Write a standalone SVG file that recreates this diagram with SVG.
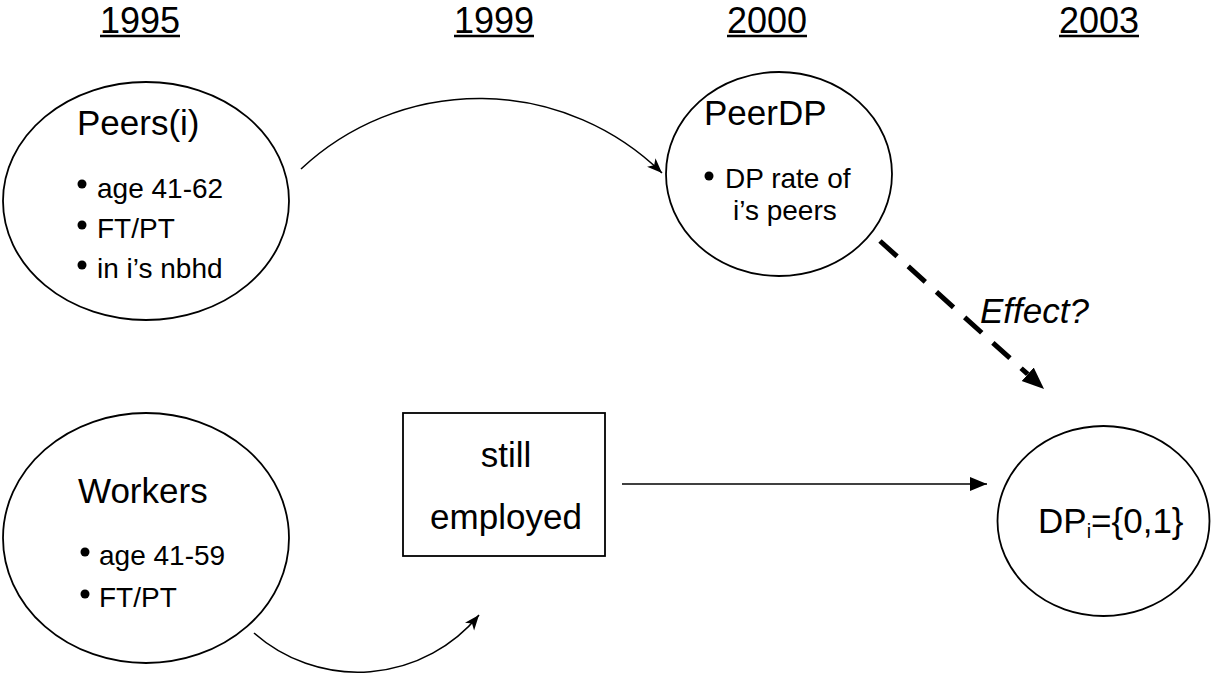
<svg xmlns="http://www.w3.org/2000/svg" width="1211" height="674" viewBox="0 0 1211 674">
  <style>
    text { font-family: "Liberation Sans", Arial, sans-serif; fill: #000; }
    .year { font-size: 36px; }
    .title { font-size: 35px; }
    .bul { font-size: 28px; }
    .node { fill: #fff; stroke: #000; stroke-width: 1.8; }
    .ul { stroke: #000; stroke-width: 2.6; }
    .dot { fill: #000; }
    .conn { fill: none; stroke: #000; stroke-width: 1.6; }
  </style>
  <defs>
    <marker id="stealth" markerUnits="userSpaceOnUse" markerWidth="18" markerHeight="14" refX="15" refY="6" orient="auto">
      <path d="M0,0 L15,6 L0,12 L4,6 z" fill="#000"/>
    </marker>
    <marker id="tri" markerUnits="userSpaceOnUse" markerWidth="20" markerHeight="16" refX="17" refY="7" orient="auto">
      <path d="M0,0 L17,7 L0,14 z" fill="#000"/>
    </marker>
    <marker id="bigtri" markerUnits="userSpaceOnUse" markerWidth="24" markerHeight="20" refX="0" refY="9" orient="auto">
      <path d="M0,0 L22,9 L0,18 z" fill="#000"/>
    </marker>
  </defs>

  <g id="years">
    <text class="year" x="100" y="33">1995</text>
    <line class="ul" x1="100" y1="36" x2="180" y2="36"/>
    <text class="year" x="454" y="33">1999</text>
    <line class="ul" x1="454" y1="36" x2="534" y2="36"/>
    <text class="year" x="727" y="33">2000</text>
    <line class="ul" x1="727" y1="36" x2="807" y2="36"/>
    <text class="year" x="1059" y="33">2003</text>
    <line class="ul" x1="1059" y1="36" x2="1139" y2="36"/>
  </g>

  <g id="connectors">
    <path class="conn" d="M301,169 A261,261 0 0 1 662,173" marker-end="url(#stealth)"/>
    <path class="conn" d="M254,633 A157,157 0 0 0 479,615" marker-end="url(#stealth)"/>
    <line class="conn" x1="622" y1="484" x2="987" y2="484" marker-end="url(#tri)"/>
    <line x1="880" y1="241" x2="1027.7" y2="374.2" stroke="#000" stroke-width="5" stroke-dasharray="23 15" marker-end="url(#bigtri)"/>
    <text class="title" x="980" y="323" font-style="italic">Effect?</text>
  </g>

  <g id="peers">
    <ellipse class="node" cx="146" cy="201" rx="143" ry="119"/>
    <text class="title" x="77" y="135">Peers(i)</text>
    <circle class="dot" cx="82" cy="184" r="4.5"/>
    <text class="bul" x="97" y="198">age 41-62</text>
    <circle class="dot" cx="82" cy="225" r="4.5"/>
    <text class="bul" x="97" y="238">FT/PT</text>
    <circle class="dot" cx="82" cy="265" r="4.5"/>
    <text class="bul" x="97" y="278">in i’s nbhd</text>
  </g>

  <g id="peerdp">
    <ellipse class="node" cx="779" cy="174" rx="113" ry="102"/>
    <text class="title" x="704" y="125">PeerDP</text>
    <circle class="dot" cx="709" cy="176" r="4.5"/>
    <text class="bul" x="725" y="188">DP rate of</text>
    <text class="bul" x="733" y="220">i’s peers</text>
  </g>

  <g id="workers">
    <ellipse class="node" cx="146" cy="538" rx="143" ry="125"/>
    <text class="title" x="78" y="503">Workers</text>
    <circle class="dot" cx="85" cy="552" r="4.5"/>
    <text class="bul" x="99" y="565">age 41-59</text>
    <circle class="dot" cx="85" cy="594" r="4.5"/>
    <text class="bul" x="99" y="607">FT/PT</text>
  </g>

  <g id="employed">
    <rect class="node" x="403" y="413" width="202" height="143" stroke-width="1.6"/>
    <text class="title" x="506" y="467" text-anchor="middle">still</text>
    <text class="title" x="506" y="529" text-anchor="middle">employed</text>
  </g>

  <g id="dp">
    <ellipse class="node" cx="1103.5" cy="521" rx="106" ry="95"/>
    <text class="title" x="1038" y="533">DP<tspan font-size="20" dy="5">i</tspan><tspan dy="-5">={0,1}</tspan></text>
  </g>
</svg>
